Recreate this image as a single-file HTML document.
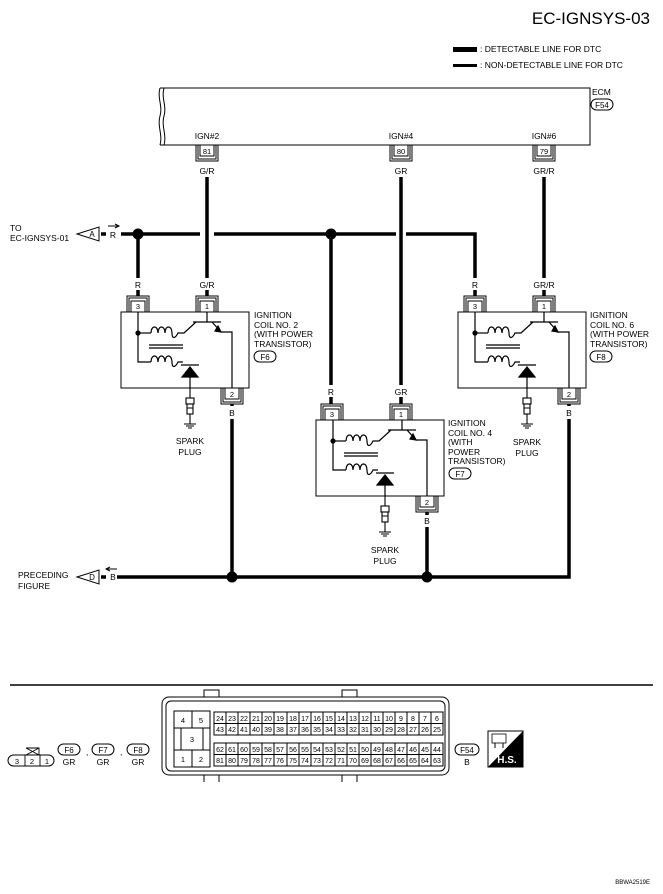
<!DOCTYPE html>
<html><head><meta charset="utf-8"><style>
html,body{margin:0;padding:0;background:#fff}
svg{display:block}
text{font-family:"Liberation Sans",Arial,sans-serif;fill:#000}
.s{font-size:8.5px}
.p{font-size:8px}
.g{font-size:7.5px}
</style></head><body>
<svg width="663" height="894" viewBox="0 0 663 894" xmlns="http://www.w3.org/2000/svg">
<defs>
<g id="pt">
<path d="M-11,0V-16H11V0M-9,0V-14H9V0" fill="none" stroke="#000" stroke-width="1"/>
<rect x="-7" y="-11" width="14" height="11" fill="#fff" stroke="#000" stroke-width="1"/>
</g>
<g id="pb">
<path d="M-11,0V16H11V0M-9,0V14H9V0" fill="none" stroke="#000" stroke-width="1"/>
<rect x="-7" y="0" width="14" height="11" fill="#fff" stroke="#000" stroke-width="1"/>
</g>
<g id="coil" fill="none" stroke="#000" stroke-width="1.2">
<rect x="0" y="0" width="128" height="76" stroke-width="1"/>
<path d="M17,0V50H30"/>
<circle cx="17" cy="21" r="2" fill="#000"/>
<path d="M17,21H30"/>
<path d="M30,21c0,-8 7,-8 7,0c0,-8 7,-8 7,0c0,-8 7,-8 7,0c0,6 3,6 6,0H63L75,10"/>
<path d="M30,50c0,-8 7,-8 7,0c0,-8 7,-8 7,0c0,-8 7,-8 7,0c0,6 3,6 6,0H62"/>
<path d="M28,33H62M28,36H62" />
<path d="M72,10H100M86,10V0M91,10L100,20H111V76"/>
<path d="M97,14L100,20L94,19Z" fill="#000"/>
<path d="M60,53H78"/>
<path d="M61,65L69,55L77,65Z" fill="#000"/>
<path d="M69,65V76"/>
</g>
<g id="plug" fill="none" stroke="#000" stroke-width="1.1">
<path d="M0,0V10"/>
<rect x="-4" y="10" width="8" height="6" fill="#fff"/>
<rect x="-3" y="16" width="6" height="10" fill="#fff"/>
<path d="M-3,20H3M0,26V36M-6,36H6M-4,38H4M-2,40H2"/>
</g>
</defs>

<text x="650" y="24" font-size="17" text-anchor="end">EC-IGNSYS-03</text>
<rect x="453" y="47" width="24" height="5" fill="#000"/>
<text x="480" y="52" class="s">: DETECTABLE LINE FOR DTC</text>
<rect x="453" y="64" width="24" height="3" fill="#000"/>
<text x="480" y="68" class="s">: NON-DETECTABLE LINE FOR DTC</text>

<path d="M160,88H590V145H160" fill="none" stroke="#000" stroke-width="1"/>
<path d="M160,88c-3,10 3,18 0,28c-3,10 3,19 0,29M164,88c-3,10 3,18 0,28c-3,10 3,19 0,29" fill="none" stroke="#000" stroke-width="1"/>
<text x="592" y="95" class="s">ECM</text>
<rect x="591" y="99" width="22" height="11" rx="5.5" fill="none" stroke="#000"/>
<text x="602" y="108" class="p" text-anchor="middle">F54</text>
<text x="207" y="139" class="s" text-anchor="middle">IGN#2</text>
<text x="401" y="139" class="s" text-anchor="middle">IGN#4</text>
<text x="544" y="139" class="s" text-anchor="middle">IGN#6</text>
<use href="#pb" x="207" y="145"/><text x="207" y="154" class="g" text-anchor="middle">81</text>
<use href="#pb" x="401" y="145"/><text x="401" y="154" class="g" text-anchor="middle">80</text>
<use href="#pb" x="544" y="145"/><text x="544" y="154" class="g" text-anchor="middle">79</text>
<text x="207" y="174" class="s" text-anchor="middle">G/R</text>
<text x="401" y="174" class="s" text-anchor="middle">GR</text>
<text x="544" y="174" class="s" text-anchor="middle">GR/R</text>

<g stroke="#000" stroke-width="3.5" fill="none">
<path d="M207,177V278M207,290V296"/>
<path d="M401,177V385M401,397V404"/>
<path d="M544,177V278M544,290V296"/>
<path d="M101,234H106M121,234H200M214,234H396M406,234H475V278M475,290V296"/>
<path d="M138,234V278M138,290V296"/>
<path d="M331,234V385M331,397V404"/>
<path d="M232,404V406M232,419V577"/>
<path d="M427,512V515M427,527V577"/>
<path d="M569,404V406M569,419V577H117"/>
<path d="M101,577H106"/>
</g>
<circle cx="138" cy="234" r="5.5"/>
<circle cx="331" cy="234" r="5.5"/>
<circle cx="232" cy="577" r="5.5"/>
<circle cx="427" cy="577" r="5.5"/>

<text x="10" y="231" class="s">TO</text>
<text x="10" y="241" class="s">EC-IGNSYS-01</text>
<path d="M77,234L99,227V241Z" fill="#fff" stroke="#000"/>
<text x="92" y="237" class="p" text-anchor="middle">A</text>
<text x="113" y="238" class="s" text-anchor="middle">R</text>
<path d="M108,226H118M115,224L119,226L115,228" fill="none" stroke="#000"/>
<text x="18" y="578" class="s">PRECEDING</text>
<text x="18" y="589" class="s">FIGURE</text>
<path d="M77,577L99,570V584Z" fill="#fff" stroke="#000"/>
<text x="92" y="580" class="p" text-anchor="middle">D</text>
<text x="113" y="580" class="s" text-anchor="middle">B</text>
<path d="M117,569H107M110,567L106,569L110,571" fill="none" stroke="#000"/>

<text x="138" y="288" class="s" text-anchor="middle">R</text>
<text x="207" y="288" class="s" text-anchor="middle">G/R</text>
<use href="#coil" x="121" y="312"/>
<use href="#pt" x="138" y="312"/><text x="138" y="309" class="g" text-anchor="middle">3</text>
<use href="#pt" x="207" y="312"/><text x="207" y="309" class="g" text-anchor="middle">1</text>
<use href="#pb" x="232" y="388"/><text x="232" y="397" class="g" text-anchor="middle">2</text>
<text x="254" y="318" class="s">IGNITION</text>
<text x="254" y="328" class="s">COIL NO. 2</text>
<text x="254" y="337" class="s">(WITH POWER</text>
<text x="254" y="347" class="s">TRANSISTOR)</text>
<rect x="254" y="351" width="22" height="11" rx="5.5" fill="none" stroke="#000"/>
<text x="265" y="360" class="p" text-anchor="middle">F6</text>
<text x="232" y="416" class="s" text-anchor="middle">B</text>
<use href="#plug" x="190" y="388"/>
<text x="190" y="444" class="s" text-anchor="middle">SPARK</text>
<text x="190" y="455" class="s" text-anchor="middle">PLUG</text>

<text x="475" y="288" class="s" text-anchor="middle">R</text>
<text x="544" y="288" class="s" text-anchor="middle">GR/R</text>
<use href="#coil" x="458" y="312"/>
<use href="#pt" x="475" y="312"/><text x="475" y="309" class="g" text-anchor="middle">3</text>
<use href="#pt" x="544" y="312"/><text x="544" y="309" class="g" text-anchor="middle">1</text>
<use href="#pb" x="569" y="388"/><text x="569" y="397" class="g" text-anchor="middle">2</text>
<text x="590" y="318" class="s">IGNITION</text>
<text x="590" y="328" class="s">COIL NO. 6</text>
<text x="590" y="337" class="s">(WITH POWER</text>
<text x="590" y="347" class="s">TRANSISTOR)</text>
<rect x="590" y="351" width="22" height="11" rx="5.5" fill="none" stroke="#000"/>
<text x="601" y="360" class="p" text-anchor="middle">F8</text>
<text x="569" y="416" class="s" text-anchor="middle">B</text>
<use href="#plug" x="527" y="388"/>
<text x="527" y="445" class="s" text-anchor="middle">SPARK</text>
<text x="527" y="456" class="s" text-anchor="middle">PLUG</text>

<text x="331" y="395" class="s" text-anchor="middle">R</text>
<text x="401" y="395" class="s" text-anchor="middle">GR</text>
<use href="#coil" x="316" y="420"/>
<use href="#pt" x="332" y="420"/><text x="332" y="417" class="g" text-anchor="middle">3</text>
<use href="#pt" x="401" y="420"/><text x="401" y="417" class="g" text-anchor="middle">1</text>
<use href="#pb" x="427" y="496"/><text x="427" y="505" class="g" text-anchor="middle">2</text>
<text x="448" y="426" class="s">IGNITION</text>
<text x="448" y="436" class="s">COIL NO. 4</text>
<text x="448" y="445" class="s">(WITH</text>
<text x="448" y="455" class="s">POWER</text>
<text x="448" y="464" class="s">TRANSISTOR)</text>
<rect x="449" y="468" width="22" height="11" rx="5.5" fill="none" stroke="#000"/>
<text x="460" y="477" class="p" text-anchor="middle">F7</text>
<text x="427" y="524" class="s" text-anchor="middle">B</text>
<use href="#plug" x="385" y="496"/>
<text x="385" y="553" class="s" text-anchor="middle">SPARK</text>
<text x="385" y="564" class="s" text-anchor="middle">PLUG</text>

<path d="M10,685H653" stroke="#000" stroke-width="1.5"/>

<rect x="8" y="755" width="46" height="11" rx="5.5" fill="#fff" stroke="#000"/>
<path d="M25,755V766M40,755V766M26,748H39V755M26,748L39,755M39,748L26,755" fill="none" stroke="#000" stroke-width="0.9"/>
<text x="17" y="764" class="g" text-anchor="middle">3</text>
<text x="32" y="764" class="g" text-anchor="middle">2</text>
<text x="47" y="764" class="g" text-anchor="middle">1</text>
<rect x="58" y="744" width="22" height="11" rx="5.5" fill="none" stroke="#000"/><text x="69" y="753" class="p" text-anchor="middle">F6</text>
<text x="69" y="765" class="s" text-anchor="middle">GR</text>
<text x="86" y="755" class="s">,</text>
<rect x="92" y="744" width="22" height="11" rx="5.5" fill="none" stroke="#000"/><text x="103" y="753" class="p" text-anchor="middle">F7</text>
<text x="103" y="765" class="s" text-anchor="middle">GR</text>
<text x="120" y="755" class="s">,</text>
<rect x="127" y="744" width="22" height="11" rx="5.5" fill="none" stroke="#000"/><text x="138" y="753" class="p" text-anchor="middle">F8</text>
<text x="138" y="765" class="s" text-anchor="middle">GR</text>

<g fill="none" stroke="#000" stroke-width="1">
<rect x="162" y="697" width="287" height="78" rx="7"/>
<rect x="166" y="701" width="279" height="70" rx="5"/>
<path d="M204,697V690H219V697M342,697V690H357V697M204,775V782M219,775V782M342,775V782M357,775V782" />
<rect x="174" y="711" width="36" height="56"/>
<path d="M174,728H210M192,711V728M181,728V750M203,728V750M174,750H210M192,750V767"/>
<rect x="214" y="712" width="229" height="23"/>
<rect x="214" y="743" width="229" height="23"/>
<path d="M214,723.5H443M214,754.5H443"/>
<path d="M226,712V735M238,712V735M250,712V735M262,712V735M274,712V735M287,712V735M299,712V735M311,712V735M323,712V735M335,712V735M347,712V735M359,712V735M371,712V735M383,712V735M395,712V735M407,712V735M419,712V735M431,712V735"/>
<path d="M226,743V766M238,743V766M250,743V766M262,743V766M274,743V766M287,743V766M299,743V766M311,743V766M323,743V766M335,743V766M347,743V766M359,743V766M371,743V766M383,743V766M395,743V766M407,743V766M419,743V766M431,743V766"/>
</g>
<g class="g" text-anchor="middle">
<text x="183" y="723">4</text><text x="201" y="723">5</text><text x="192" y="742">3</text><text x="183" y="762">1</text><text x="201" y="762">2</text>
</g>
<g font-size="7" text-anchor="middle">
<text x="220" y="721">24</text><text x="232" y="721">23</text><text x="244" y="721">22</text><text x="256" y="721">21</text><text x="268" y="721">20</text><text x="280" y="721">19</text><text x="293" y="721">18</text><text x="305" y="721">17</text><text x="317" y="721">16</text><text x="329" y="721">15</text><text x="341" y="721">14</text><text x="353" y="721">13</text><text x="365" y="721">12</text><text x="377" y="721">11</text><text x="389" y="721">10</text><text x="401" y="721">9</text><text x="413" y="721">8</text><text x="425" y="721">7</text><text x="437" y="721">6</text>
<text x="220" y="732">43</text><text x="232" y="732">42</text><text x="244" y="732">41</text><text x="256" y="732">40</text><text x="268" y="732">39</text><text x="280" y="732">38</text><text x="293" y="732">37</text><text x="305" y="732">36</text><text x="317" y="732">35</text><text x="329" y="732">34</text><text x="341" y="732">33</text><text x="353" y="732">32</text><text x="365" y="732">31</text><text x="377" y="732">30</text><text x="389" y="732">29</text><text x="401" y="732">28</text><text x="413" y="732">27</text><text x="425" y="732">26</text><text x="437" y="732">25</text>
<text x="220" y="752">62</text><text x="232" y="752">61</text><text x="244" y="752">60</text><text x="256" y="752">59</text><text x="268" y="752">58</text><text x="280" y="752">57</text><text x="293" y="752">56</text><text x="305" y="752">55</text><text x="317" y="752">54</text><text x="329" y="752">53</text><text x="341" y="752">52</text><text x="353" y="752">51</text><text x="365" y="752">50</text><text x="377" y="752">49</text><text x="389" y="752">48</text><text x="401" y="752">47</text><text x="413" y="752">46</text><text x="425" y="752">45</text><text x="437" y="752">44</text>
<text x="220" y="763">81</text><text x="232" y="763">80</text><text x="244" y="763">79</text><text x="256" y="763">78</text><text x="268" y="763">77</text><text x="280" y="763">76</text><text x="293" y="763">75</text><text x="305" y="763">74</text><text x="317" y="763">73</text><text x="329" y="763">72</text><text x="341" y="763">71</text><text x="353" y="763">70</text><text x="365" y="763">69</text><text x="377" y="763">68</text><text x="389" y="763">67</text><text x="401" y="763">66</text><text x="413" y="763">65</text><text x="425" y="763">64</text><text x="437" y="763">63</text>
</g>
<rect x="455" y="744" width="24" height="11" rx="5.5" fill="none" stroke="#000"/>
<text x="467" y="753" class="p" text-anchor="middle">F54</text>
<text x="467" y="765" class="s" text-anchor="middle">B</text>

<rect x="488" y="731" width="35" height="36" fill="#fff" stroke="#000"/>
<path d="M523,731V767H488Z" fill="#000"/>
<rect x="492" y="734" width="14" height="9" fill="none" stroke="#000" stroke-width="0.8"/>
<path d="M495,743V748M503,743V748" stroke="#000"/>
<text x="507" y="763" font-size="10" font-weight="bold" text-anchor="middle" style="fill:#fff">H.S.</text>

<text x="650" y="884" font-size="6" text-anchor="end">BBWA2519E</text>
</svg>
</body></html>
